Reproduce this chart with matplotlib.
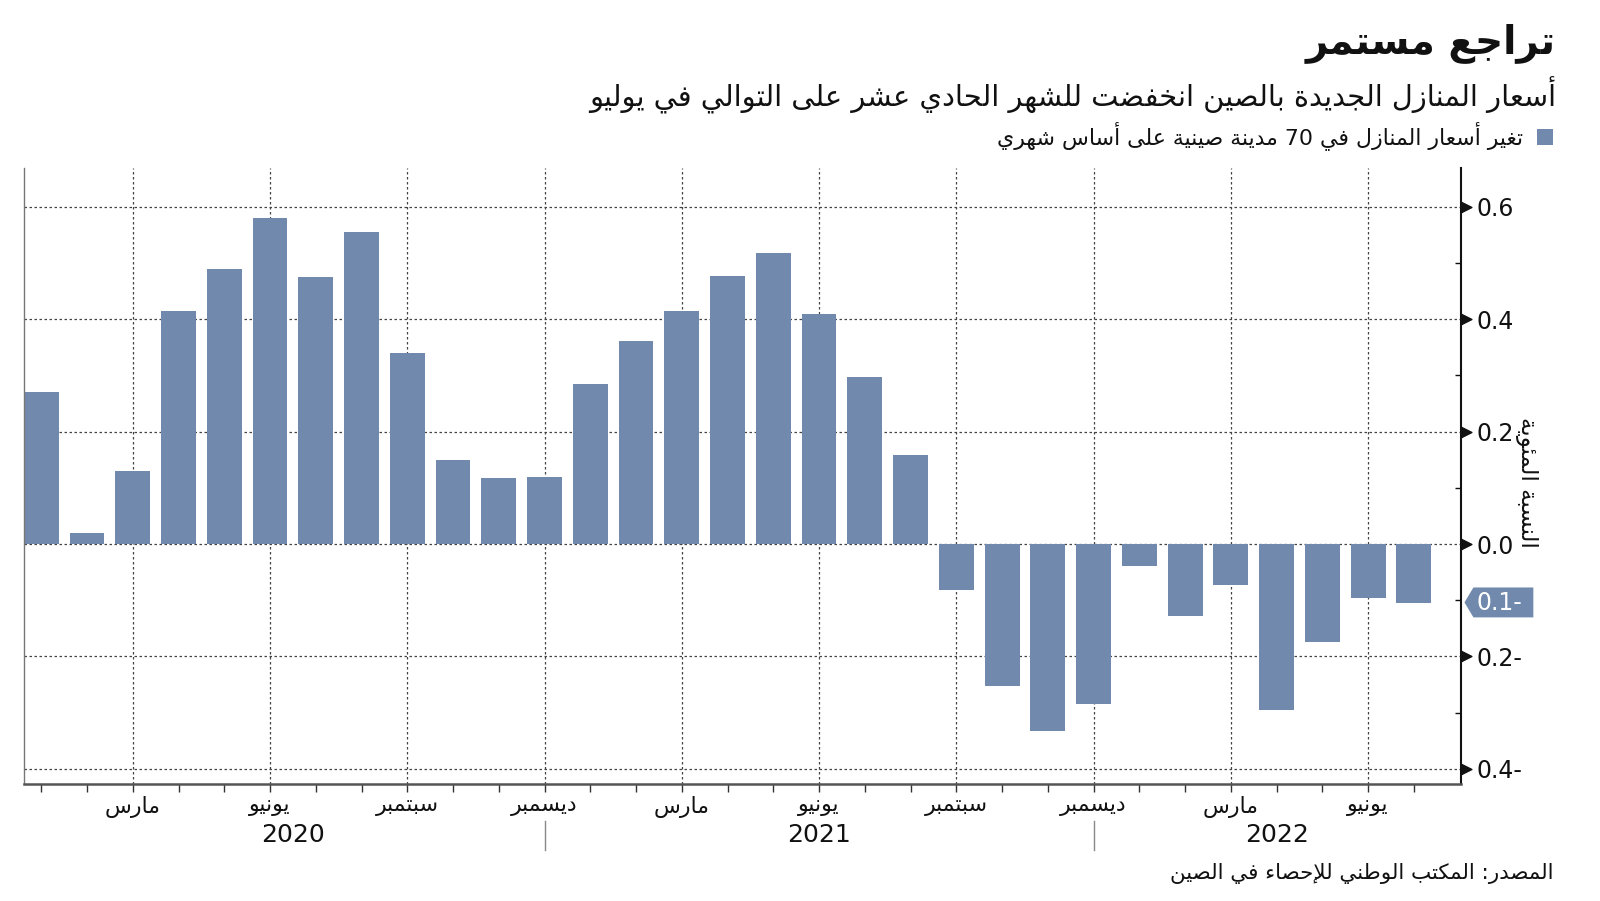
import re
import numpy as np
import matplotlib
matplotlib.use('Agg')
import matplotlib.pyplot as plt
from matplotlib.path import Path
from matplotlib.ticker import FixedLocator, FuncFormatter

# Monthly change in new home prices, 70 Chinese cities (Jan 2020 - Jul 2022)
values = [0.27, 0.02, 0.13, 0.415, 0.49, 0.58, 0.475, 0.555, 0.34, 0.15, 0.117, 0.12,
          0.285, 0.362, 0.415, 0.477, 0.518, 0.41, 0.298, 0.159, -0.082, -0.252, -0.332, -0.284,
          -0.039, -0.128, -0.073, -0.296, -0.175, -0.096, -0.105]
quarter_idx = [2, 5, 8, 11, 14, 17, 20, 23, 26, 29]
quarter_names = ['مارس', 'يونيو', 'سبتمبر', 'ديسمبر', 'مارس', 'يونيو', 'سبتمبر', 'ديسمبر', 'مارس', 'يونيو']
years = ['2020', '2021', '2022']
year_bounds = [0, 11, 23, 31]
y_ticks = [-0.4, -0.2, 0.0, 0.2, 0.4, 0.6]

title = 'تراجع مستمر'
subtitle = 'أسعار المنازل الجديدة بالصين انخفضت للشهر الحادي عشر على التوالي في يوليو'
legend_label = 'تغير أسعار المنازل في 70 مدينة صينية على أساس شهري'
y_label = 'النسبة المئوية'
source = 'المصدر: المكتب الوطني للإحصاء في الصين'

BAR = '#7089ac'

# matplotlib has no Arabic shaping: map letters to presentation forms, then reverse
AR_FORMS = {
    'ء': (0xFE80, 1), 'آ': (0xFE81, 2), 'أ': (0xFE83, 2), 'ؤ': (0xFE85, 2), 'إ': (0xFE87, 2),
    'ئ': (0xFE89, 4), 'ا': (0xFE8D, 2), 'ب': (0xFE8F, 4), 'ة': (0xFE93, 2), 'ت': (0xFE95, 4),
    'ث': (0xFE99, 4), 'ج': (0xFE9D, 4), 'ح': (0xFEA1, 4), 'خ': (0xFEA5, 4), 'د': (0xFEA9, 2),
    'ذ': (0xFEAB, 2), 'ر': (0xFEAD, 2), 'ز': (0xFEAF, 2), 'س': (0xFEB1, 4), 'ش': (0xFEB5, 4),
    'ص': (0xFEB9, 4), 'ض': (0xFEBD, 4), 'ط': (0xFEC1, 4), 'ظ': (0xFEC5, 4), 'ع': (0xFEC9, 4),
    'غ': (0xFECD, 4), 'ف': (0xFED1, 4), 'ق': (0xFED5, 4), 'ك': (0xFED9, 4), 'ل': (0xFEDD, 4),
    'م': (0xFEE1, 4), 'ن': (0xFEE5, 4), 'ه': (0xFEE9, 4), 'و': (0xFEED, 2), 'ى': (0xFEEF, 2),
    'ي': (0xFEF1, 4),
}
LAM_ALEF = {'آ': 0xFEF5, 'أ': 0xFEF7, 'إ': 0xFEF9, 'ا': 0xFEFB}


def ar(text):
    out = []
    i = 0
    while i < len(text):
        c = text[i]
        if c not in AR_FORMS:
            out.append(c)
            i += 1
            continue
        prev = text[i - 1] if i > 0 else ''
        nxt = text[i + 1] if i + 1 < len(text) else ''
        joins_prev = prev in AR_FORMS and AR_FORMS[prev][1] == 4
        if c == 'ل' and nxt in LAM_ALEF:
            out.append(chr(LAM_ALEF[nxt] + (1 if joins_prev else 0)))
            i += 2
            continue
        base, n = AR_FORMS[c]
        joins_next = n == 4 and nxt in AR_FORMS
        if n == 4 and joins_prev and joins_next:
            form = 3
        elif joins_prev and n > 1:
            form = 1
        elif joins_next:
            form = 2
        else:
            form = 0
        out.append(chr(base + form))
        i += 1
    s = ''.join(out)[::-1]
    return re.sub(r'[0-9A-Za-z]+', lambda m: m.group()[::-1], s)


def tag_box(x0, y0, width, height, mutation_size):
    # label box with a pointed left side
    x0 = x0 - 0.15 * mutation_size
    x1 = x0 + width + 0.6 * mutation_size
    y0 = y0 - 0.1 * mutation_size
    y1 = y0 + height + 0.25 * mutation_size
    tip = 0.3 * (y1 - y0)
    return Path([(x0, y0), (x1, y0), (x1, y1), (x0, y1),
                 (x0 - tip, (y0 + y1) / 2), (x0, y0)], closed=True)


plt.rcParams['font.family'] = ['DejaVu Sans']

fig = plt.figure(figsize=(16, 9.01), dpi=100)
ax = fig.add_axes([23.5 / 1600, 1 - 784 / 901, (1461 - 23.5) / 1600, (784 - 168) / 901])

x = np.arange(len(values))
bars = ax.bar(x, values, width=0.76, color=BAR, zorder=2)

ax.set_xlim(-0.39, len(values) + 0.03)
ax.set_ylim(-0.427, 0.669)

# y axis on the right
ax.yaxis.tick_right()
ax.yaxis.set_major_locator(FixedLocator(y_ticks))
ax.yaxis.set_minor_locator(FixedLocator([-0.3, -0.1, 0.1, 0.3, 0.5]))
ax.yaxis.set_major_formatter(FuncFormatter(lambda v, p: f'{abs(v):.1f}-' if v < -1e-9 else f'{v:.1f}'))
ax.tick_params(axis='y', which='major', length=0, pad=11.5, labelsize=17, colors='#111')
ax.tick_params(axis='y', which='minor', direction='in', length=4, width=1, colors='#111')
ax.plot(np.ones(len(y_ticks)), y_ticks, ls='none', marker=Path([(0, -1), (2, 0), (0, 1), (0, -1)]),
        ms=15, color='#111', transform=ax.get_yaxis_transform(), clip_on=False, zorder=5)

# x axis: month ticks, quarter labels
ax.xaxis.set_major_locator(FixedLocator(quarter_idx))
ax.xaxis.set_minor_locator(FixedLocator(x))
ax.set_xticklabels([ar(m) for m in quarter_names])
ax.tick_params(axis='x', which='both', length=6, width=1, colors='#333', pad=2.5)
ax.tick_params(axis='x', which='major', labelsize=15.8, labelcolor='#111')

ax.grid(True, which='major', linestyle=(0, (2, 2)), color='#444', linewidth=0.9)
ax.set_axisbelow(True)

ax.spines['top'].set_visible(False)
ax.spines['left'].set_color('#777')
ax.spines['left'].set_linewidth(1)
ax.spines['right'].set_color('#111')
ax.spines['right'].set_linewidth(1.5)
ax.spines['bottom'].set_color('#555')
ax.spines['bottom'].set_linewidth(1.8)

ax.yaxis.set_label_position('right')
ax.set_ylabel(ar(y_label), rotation=270, fontsize=16.5, color='#111', ha='center', va='center')
ax.yaxis.set_label_coords(1.0455, 0.49)

# year labels and separators
xt = ax.get_xaxis_transform()
for i, yr in enumerate(years):
    ax.text((year_bounds[i] + year_bounds[i + 1]) / 2, -0.083, yr, transform=xt,
            ha='center', va='center', fontsize=18, color='#111')
for b in year_bounds[1:-1]:
    ax.plot([b, b], [-0.06, -0.107], transform=xt, color='#888', lw=1, clip_on=False)

# highlighted latest value
ax.annotate(f'{abs(values[-1]):.1f}-', xy=(1, values[-1]), xycoords=('axes fraction', 'data'),
            xytext=(11.5, 0), textcoords='offset points', ha='left', va='center',
            fontsize=17, color='white',
            bbox=dict(boxstyle=tag_box, fc=BAR, ec='none'))

fig.text(1556 / 1600, 1 - 43 / 901, ar(title), ha='right', va='center',
         fontsize=28, fontweight='bold', color='#111')
fig.text(1556 / 1600, 1 - 95 / 901, ar(subtitle), ha='right', va='center',
         fontsize=20.8, color='#111')
fig.legend([bars], [ar(legend_label)], loc='center right',
           bbox_to_anchor=(1553 / 1600, 1 - 136 / 901), markerfirst=False, frameon=False,
           handlelength=0.75, handleheight=0.75, handletextpad=0.6, borderpad=0,
           borderaxespad=0, fontsize=15.8, labelcolor='#111')
fig.text(1553 / 1600, 1 - 874 / 901, ar(source), ha='right', va='center',
         fontsize=15.4, color='#111')

fig.savefig('out.png', dpi=100)
